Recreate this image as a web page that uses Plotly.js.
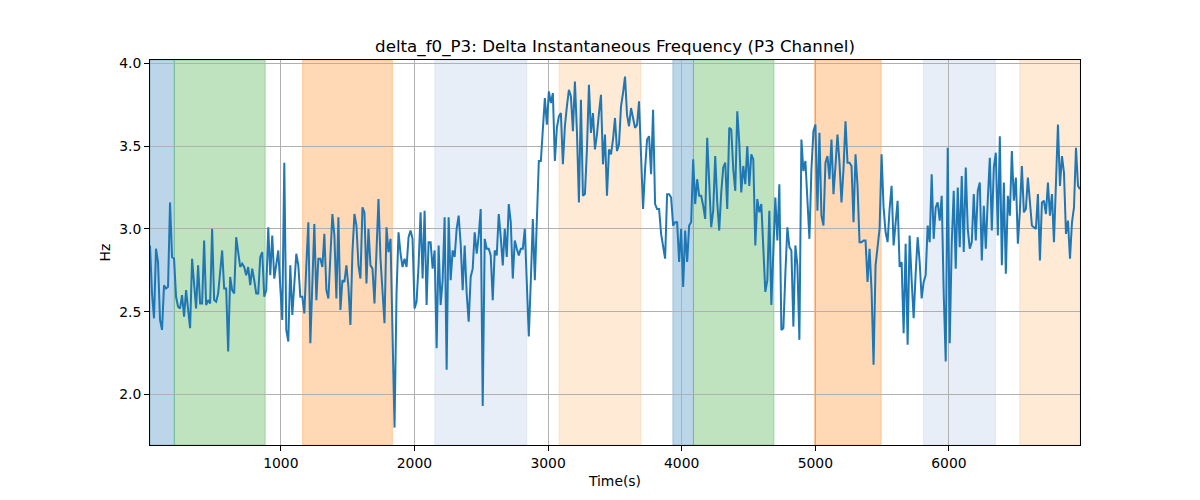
<!DOCTYPE html>
<html>
<head>
<meta charset="utf-8">
<script src="https://cdn.plot.ly/plotly-3.0.1.min.js"></script>
<style>html,body{margin:0;padding:0;background:#fff;}#chart{width:1200px;height:500px;}</style>
</head>
<body>
<div id="chart"></div>
<script>
// ---- data ----
const T0 = 21;      // first sample time (s)
const DT = 15;      // sample spacing (s)
const T_END = 6981; // last sample time (s)

const seg1 = [2.90,2.61,2.46,2.88,2.80,2.45,2.39,2.66,2.64,2.65,3.16,2.83,2.82,2.59,2.53,2.52,2.60,2.47,2.63,2.53,2.40,2.82,2.69,2.52,2.78,2.55,2.55,2.93,2.54,2.57,2.55,3.00,2.57,2.56,2.61,2.73,2.87,2.64,2.64,2.26,2.71,2.63,2.61,2.95,2.84,2.77,2.79,2.77,2.72,2.77,2.66,2.76,2.69,2.61,2.61,2.83,2.86,2.59];
const seg2 = [2.63,3.01,2.72,2.96,2.70,2.80,2.87,2.65,2.45,3.40,2.39,2.32,2.78,2.48,2.65,2.85,2.78,2.59,2.59,2.49,2.78,3.04,2.31,2.65,3.03,2.57,2.82,2.82,2.77,2.97,2.63,2.58,2.88,3.09,2.96,2.58,3.07,2.51,2.69,2.68,2.78,2.65,2.42,2.86,3.09,3.02,2.78,2.70,3.13,3.10,2.67,3.00,2.78,2.76,2.55,2.82,3.18];
const seg3 = [2.82,2.61,2.43,3.01,2.86,2.94,2.41,1.80,2.61,2.98,2.85,2.77,2.82,2.77,2.95,2.99,2.94,2.52,2.56,2.78,3.10,2.70,3.11,2.54,2.92,2.92,2.76,2.87,2.28,2.90,2.54,2.69,3.07,2.15,3.07,2.69,2.87,2.83,3.00,3.08,2.91,2.63,2.90,2.61,2.44,2.71,2.76,2.98,2.85,2.96,3.12,1.93,2.94,2.88,2.88,2.84,2.57,2.87];
const seg4 = [2.84,3.09,2.95,2.78,3.00,2.83,3.15,3.04,2.70,2.93,2.88,2.84,2.88,2.88,3.00,2.61,2.35,2.69,3.06,2.69,3.06,3.41,3.41,3.60,3.79,3.63,3.83,3.76,3.82,3.41,3.61,3.68,3.70,3.39,3.62,3.74,3.84,3.80,3.59,3.89,3.59,3.16,3.78,3.20,3.21,3.48,3.87,3.58,3.70,3.48,3.57,3.70,3.81,3.39,3.57,3.20,3.48,3.45];
const seg5 = [3.54,3.67,3.47,3.51,3.74,3.82,3.92,3.69,3.62,3.73,3.67,3.61,3.63,3.77,3.44,3.12,3.36,3.54,3.56,3.33,3.72,3.15,3.12,3.12,2.97,2.88,2.82,3.21,3.21,3.19,3.02,3.04,3.04,2.80,3.00,2.65,2.99,2.80,3.02,3.04,3.42,3.15,3.30,3.20,3.20,3.14,3.06,3.55,3.26,3.01,3.11,3.44,3.16,2.99,3.22,3.37,3.40,3.12,3.61];
const seg6 = [3.60,3.36,3.23,3.71,3.52,3.22,3.38,3.27,3.50,3.26,3.45,3.42,2.90,3.18,3.10,3.15,2.90,2.62,2.69,3.11,2.54,2.91,3.19,2.93,3.27,2.39,2.40,2.73,3.01,2.89,2.87,2.41,2.90,2.78,2.33,3.54,3.35,3.41,3.19,2.94,3.36,3.59,3.63,3.11,3.58,3.08,3.02,3.40,3.44,3.30,3.54,3.21,3.38,3.57,3.40,3.16,3.36,3.65];
const seg7 = [3.40,3.40,3.38,3.04,3.45,3.26,2.92,2.92,2.93,2.93,2.68,2.88,2.63,2.18,2.78,2.88,3.00,3.45,3.13,2.98,2.92,3.12,3.26,2.90,3.04,3.17,2.77,2.80,2.37,2.91,2.30,2.96,2.69,2.46,2.73,2.95,2.80,2.58,2.68,2.72,3.02,2.92,3.33,2.94,3.13,3.16,3.05,3.20,2.61,2.20,3.49,2.31,2.91,3.23,2.76,3.25,2.89,3.32];
const seg8 = [2.86,3.37,3.00,2.88,2.92,3.21,2.93,3.23,3.28,2.81,3.14,2.88,3.18,3.43,2.99,3.37,3.46,2.96,3.56,2.78,3.28,2.73,3.20,3.08,3.47,3.17,3.31,2.91,3.11,3.38,3.10,3.12,3.31,3.16,3.02,3.01,3.00,3.21,2.81,3.16,3.17,3.09,3.28,3.08,3.21,2.92,3.28,3.63,3.26,3.44,3.34,2.97,3.05,2.82,3.04,3.13,3.49,3.26,3.24];

// shaded intervals (s) and their state kind
const bandStart = [21, 203, 1163, 2152, 3082, 3934, 4088, 4993, 5810, 6530];
const bandEnd   = [203, 883, 1835, 2840, 3694, 4088, 4691, 5493, 6348, 6981];
const bandKind  = [0, 1, 2, 3, 4, 0, 1, 2, 3, 4];

const yTicks = [2.0, 2.5, 3.0, 3.5, 4.0];
const xTicks = [1000, 2000, 3000, 4000, 5000, 6000];

// ---- styles ----
const kindFill = [
  'rgba(31,119,180,0.3)',
  'rgba(44,160,44,0.3)',
  'rgba(255,127,14,0.3)',
  'rgba(174,199,232,0.3)',
  'rgba(255,187,120,0.3)'
];

const values = [].concat(seg1, seg2, seg3, seg4, seg5, seg6, seg7, seg8);

const shapes = bandStart.map((s, i) => ({
  type: 'rect', xref: 'x', yref: 'paper',
  x0: s, x1: bandEnd[i], y0: 0, y1: 1,
  fillcolor: kindFill[bandKind[i]],
  line: {color: kindFill[bandKind[i]], width: 1},
  layer: 'below'
}));

const font = 'DejaVu Sans, sans-serif';

const trace = {
  type: 'scatter', mode: 'lines',
  x0: T0, dx: DT, y: values,
  line: {color: '#1f77b4', width: 2},
  hoverinfo: 'skip'
};

const layout = {
  width: 1200, height: 500,
  margin: {l: 150, r: 120, t: 60, b: 55},
  paper_bgcolor: '#fff', plot_bgcolor: 'rgba(0,0,0,0)',
  showlegend: false,
  font: {family: font, size: 13.9, color: '#000'},
  title: {
    text: 'delta_f0_P3: Delta Instantaneous Frequency (P3 Channel)',
    font: {family: font, size: 16.7, color: '#000'},
    x: 0.5, xref: 'paper', xanchor: 'center',
    y: 0.908, yref: 'container', yanchor: 'middle'
  },
  xaxis: {
    range: [T0, T_END], tickvals: xTicks, ticktext: xTicks.map(String),
    showgrid: true, gridcolor: '#b0b0b0', gridwidth: 1,
    zeroline: false, showline: true, mirror: true, linecolor: '#000', linewidth: 1,
    ticks: 'outside', ticklen: 5, tickcolor: '#000', tickwidth: 1,
    tickfont: {family: font, size: 13.9, color: '#000'},
    title: {text: 'Time(s)', font: {family: font, size: 13.9, color: '#000'}, standoff: 6},
    automargin: false
  },
  yaxis: {
    range: [1.695, 4.02], tickvals: yTicks, ticktext: yTicks.map(v => v.toFixed(1)),
    showgrid: true, gridcolor: '#b0b0b0', gridwidth: 1,
    zeroline: false, showline: true, mirror: true, linecolor: '#000', linewidth: 1,
    ticks: 'outside', ticklen: 5, tickcolor: '#000', tickwidth: 1,
    tickfont: {family: font, size: 13.9, color: '#000'},
    title: {text: 'Hz', font: {family: font, size: 13.9, color: '#000'}, standoff: 5},
    automargin: false
  },
  shapes: shapes
};

Plotly.newPlot('chart', [trace], layout, {staticPlot: true, displayModeBar: false});
</script>
</body>
</html>
